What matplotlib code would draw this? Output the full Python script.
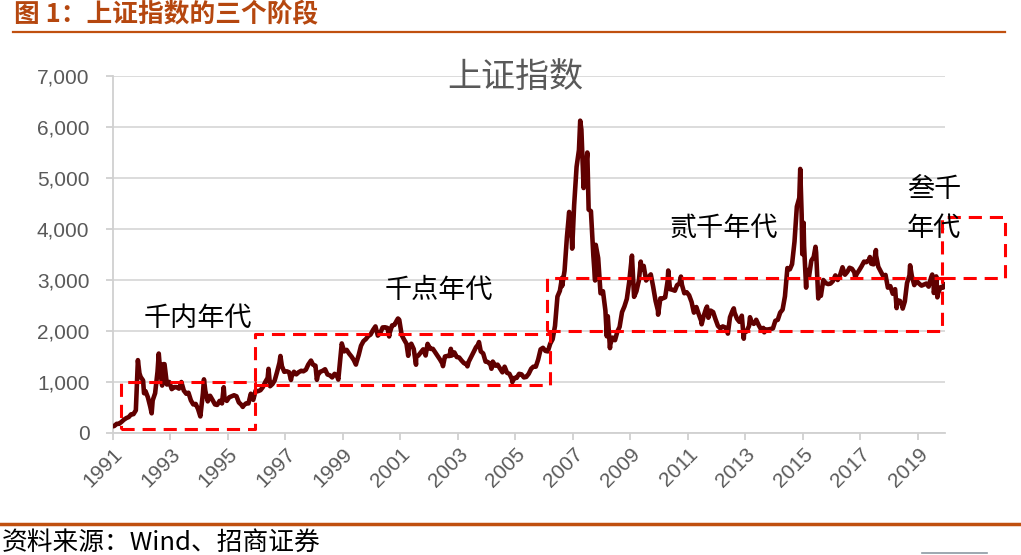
import numpy as np
import pandas as pd
import matplotlib
matplotlib.use("Agg")
import matplotlib.pyplot as plt

plt.rcParams['font.family'] = ['Liberation Sans', 'Noto Sans CJK SC', 'DejaVu Sans']

# 上证指数（读图估计，月度 + 关键高低点）
dates = [
    "1991-07-15", "1991-07-31", "1991-08-31", "1991-09-30", "1991-10-31", "1991-11-30", "1991-12-31",
    "1992-01-31", "1992-02-29", "1992-03-31", "1992-04-30", "1992-05-21", "1992-05-26", "1992-06-15",
    "1992-06-30", "1992-07-31", "1992-08-12", "1992-08-31", "1992-09-30", "1992-10-31", "1992-11-17",
    "1992-11-30", "1992-12-31",
    "1993-01-31", "1993-02-16", "1993-02-28", "1993-03-31", "1993-04-15", "1993-04-30", "1993-05-31",
    "1993-06-30", "1993-07-31", "1993-08-31", "1993-09-30", "1993-10-31", "1993-11-30", "1993-12-31",
    "1994-01-31", "1994-02-28", "1994-03-31", "1994-04-30", "1994-05-31", "1994-06-30", "1994-07-29",
    "1994-08-31", "1994-09-13", "1994-09-30", "1994-10-31", "1994-11-30", "1994-12-31",
    "1995-01-31", "1995-02-28", "1995-03-31", "1995-04-30", "1995-05-22", "1995-05-31", "1995-06-30",
    "1995-07-31", "1995-08-31", "1995-09-30", "1995-10-31", "1995-11-30", "1995-12-31",
    "1996-01-19", "1996-01-31", "1996-02-29", "1996-03-31", "1996-04-30", "1996-05-31", "1996-06-30",
    "1996-07-31", "1996-08-31", "1996-09-30", "1996-10-31", "1996-11-30", "1996-12-11", "1996-12-31",
    "1997-01-31", "1997-02-28", "1997-03-31", "1997-04-30", "1997-05-12", "1997-05-31", "1997-06-30",
    "1997-07-31", "1997-08-31", "1997-09-23", "1997-09-30", "1997-10-31", "1997-11-30", "1997-12-31",
    "1998-01-31", "1998-02-28", "1998-03-31", "1998-04-30", "1998-05-31", "1998-06-04", "1998-06-30",
    "1998-07-31", "1998-08-18", "1998-08-31", "1998-09-30", "1998-10-31", "1998-11-30", "1998-12-31",
    "1999-01-31", "1999-02-28", "1999-03-31", "1999-04-30", "1999-05-17", "1999-05-31", "1999-06-30",
    "1999-07-31", "1999-08-31", "1999-09-30", "1999-10-31", "1999-11-30", "1999-12-27", "1999-12-31",
    "2000-01-31", "2000-02-29", "2000-03-31", "2000-04-30", "2000-05-31", "2000-06-30", "2000-07-31",
    "2000-08-31", "2000-09-30", "2000-10-31", "2000-11-30", "2000-12-31",
    "2001-01-31", "2001-02-22", "2001-02-28", "2001-03-31", "2001-04-30", "2001-05-31", "2001-06-14",
    "2001-06-30", "2001-07-31", "2001-08-31", "2001-09-30", "2001-10-22", "2001-10-31", "2001-11-30",
    "2001-12-31",
    "2002-01-29", "2002-01-31", "2002-02-28", "2002-03-31", "2002-04-30", "2002-05-31", "2002-06-25",
    "2002-06-30", "2002-07-31", "2002-08-31", "2002-09-30", "2002-10-31", "2002-11-30", "2002-12-31",
    "2003-01-06", "2003-01-31", "2003-02-28", "2003-03-31", "2003-04-16", "2003-04-30", "2003-05-31",
    "2003-06-30", "2003-07-31", "2003-08-31", "2003-09-30", "2003-10-31", "2003-11-13", "2003-11-30",
    "2003-12-31",
    "2004-01-31", "2004-02-29", "2004-03-31", "2004-04-07", "2004-04-30", "2004-05-31", "2004-06-30",
    "2004-07-31", "2004-08-31", "2004-09-13", "2004-09-30", "2004-10-31", "2004-11-30", "2004-12-31",
    "2005-01-31", "2005-02-28", "2005-03-31", "2005-04-30", "2005-05-31", "2005-06-06", "2005-06-30",
    "2005-07-31", "2005-08-31", "2005-09-30", "2005-10-31", "2005-11-30", "2005-12-31",
    "2006-01-31", "2006-02-28", "2006-03-31", "2006-04-30", "2006-05-31", "2006-06-30", "2006-07-31",
    "2006-08-31", "2006-09-30", "2006-10-31", "2006-11-30", "2006-12-31",
    "2007-01-31", "2007-02-26", "2007-02-28", "2007-03-31", "2007-04-30", "2007-05-29", "2007-05-31",
    "2007-06-30", "2007-07-06", "2007-07-31", "2007-08-31", "2007-09-30", "2007-10-16", "2007-10-31",
    "2007-11-28", "2007-11-30", "2007-12-31",
    "2008-01-14", "2008-01-31", "2008-02-29", "2008-03-31", "2008-04-22", "2008-04-30", "2008-05-31",
    "2008-06-30", "2008-07-31", "2008-08-31", "2008-09-18", "2008-09-30", "2008-10-28", "2008-10-31",
    "2008-11-30", "2008-12-31",
    "2009-01-31", "2009-02-28", "2009-03-31", "2009-04-30", "2009-05-31", "2009-06-30", "2009-07-31",
    "2009-08-04", "2009-08-31", "2009-09-30", "2009-10-31", "2009-11-24", "2009-11-30", "2009-12-31",
    "2010-01-31", "2010-02-28", "2010-03-31", "2010-04-30", "2010-05-31", "2010-06-30", "2010-07-02",
    "2010-07-31", "2010-08-31", "2010-09-30", "2010-10-31", "2010-11-08", "2010-11-30", "2010-12-31",
    "2011-01-31", "2011-02-28", "2011-03-31", "2011-04-18", "2011-04-30", "2011-05-31", "2011-06-30",
    "2011-07-31", "2011-08-31", "2011-09-30", "2011-10-31", "2011-11-30", "2011-12-31",
    "2012-01-06", "2012-01-31", "2012-02-29", "2012-03-14", "2012-03-31", "2012-04-30", "2012-05-31",
    "2012-06-30", "2012-07-31", "2012-08-31", "2012-09-30", "2012-10-31", "2012-11-30", "2012-12-04",
    "2012-12-31",
    "2013-01-31", "2013-02-18", "2013-02-28", "2013-03-31", "2013-04-30", "2013-05-31", "2013-06-25",
    "2013-06-30", "2013-07-31", "2013-08-31", "2013-09-12", "2013-09-30", "2013-10-31", "2013-11-30",
    "2013-12-31",
    "2014-01-31", "2014-02-28", "2014-03-12", "2014-03-31", "2014-04-30", "2014-05-31", "2014-06-30",
    "2014-07-31", "2014-08-31", "2014-09-30", "2014-10-31", "2014-11-30", "2014-12-31",
    "2015-01-31", "2015-02-28", "2015-03-31", "2015-04-30", "2015-05-31", "2015-06-12", "2015-06-30",
    "2015-07-08", "2015-07-24", "2015-07-31", "2015-08-26", "2015-08-31", "2015-09-30", "2015-10-31",
    "2015-11-30", "2015-12-23", "2015-12-31",
    "2016-01-27", "2016-01-31", "2016-02-29", "2016-03-31", "2016-04-30", "2016-05-31", "2016-06-30",
    "2016-07-31", "2016-08-31", "2016-09-30", "2016-10-31", "2016-11-30", "2016-12-31",
    "2017-01-31", "2017-02-28", "2017-03-31", "2017-04-30", "2017-05-11", "2017-05-31", "2017-06-30",
    "2017-07-31", "2017-08-31", "2017-09-30", "2017-10-31", "2017-11-14", "2017-11-30", "2017-12-31",
    "2018-01-29", "2018-01-31", "2018-02-28", "2018-03-31", "2018-04-30", "2018-05-31", "2018-06-30",
    "2018-07-31", "2018-08-31", "2018-09-30", "2018-10-19", "2018-10-31", "2018-11-30", "2018-12-31",
    "2019-01-04", "2019-01-31", "2019-02-28", "2019-03-31", "2019-04-08", "2019-04-30", "2019-05-31",
    "2019-06-30", "2019-07-31", "2019-08-31", "2019-09-30", "2019-10-31", "2019-11-30", "2019-12-31",
    "2020-01-14", "2020-01-31", "2020-02-03", "2020-02-28", "2020-03-05", "2020-03-19", "2020-03-31",
    "2020-04-30", "2020-05-31", "2020-06-12",
]
values = [
    133, 137, 180, 180, 218, 260, 292,
    313, 365, 370, 445, 1266, 1429, 1170,
    1100, 1030, 780, 820, 700, 510, 386,
    640, 780,
    1200, 1558, 1330, 930, 1350, 1350, 950,
    1000, 860, 900, 900, 870, 1000, 833,
    770, 790, 640, 560, 570, 470, 325,
    780, 1052, 830, 620, 730, 648,
    560, 550, 630, 580, 897, 700, 630,
    700, 720, 740, 720, 600, 555,
    512, 540, 580, 580, 770, 650, 830,
    820, 840, 900, 1000, 1080, 1258, 917,
    960, 1030, 1200, 1380, 1510, 1310, 1200,
    1210, 1190, 1040, 1100, 1200, 1150, 1194,
    1220, 1210, 1240, 1340, 1410, 1420, 1340,
    1320, 1043, 1140, 1200, 1220, 1250, 1147,
    1130, 1090, 1160, 1120, 1047, 1280, 1756,
    1600, 1630, 1560, 1500, 1430, 1341, 1370,
    1530, 1710, 1800, 1840, 1900, 1930, 2020,
    2090, 1910, 1960, 2070, 2073,
    2060, 1893, 1960, 2110, 2120, 2210, 2245,
    2220, 1920, 1830, 1750, 1514, 1690, 1750,
    1646,
    1339, 1490, 1520, 1580, 1640, 1520, 1748,
    1730, 1650, 1650, 1580, 1510, 1440, 1357,
    1311, 1500, 1510, 1510, 1650, 1520, 1580,
    1490, 1480, 1420, 1370, 1350, 1307, 1400,
    1497,
    1590, 1680, 1740, 1783, 1600, 1560, 1400,
    1390, 1340, 1260, 1400, 1320, 1340, 1266,
    1190, 1300, 1180, 1160, 1060, 998, 1080,
    1080, 1160, 1150, 1090, 1100, 1161,
    1260, 1300, 1300, 1440, 1640, 1670, 1610,
    1600, 1750, 1840, 2100, 2675,
    2790, 3040, 2880, 3180, 3840, 4335, 4110,
    3820, 3615, 4470, 5220, 5550, 6124, 5950,
    4803, 4870, 5262,
    5500, 4380, 4350, 3470, 2990, 3690, 3430,
    2740, 2780, 2400, 1895, 2290, 1664, 1730,
    1870, 1820,
    1990, 2080, 2370, 2480, 2630, 2960, 3410,
    3478, 2670, 2780, 2990, 3361, 3200, 3277,
    2990, 3050, 3110, 2870, 2590, 2400, 2320,
    2640, 2640, 2660, 2980, 3186, 2820, 2808,
    2790, 2900, 2930, 3067, 2910, 2740, 2760,
    2700, 2570, 2360, 2470, 2330, 2199,
    2132, 2290, 2430, 2478, 2260, 2400, 2370,
    2230, 2100, 2050, 2090, 2070, 1980, 1949,
    2269,
    2390, 2444, 2360, 2240, 2180, 2300, 1849,
    1980, 1990, 2100, 2270, 2170, 2140, 2220,
    2116,
    2030, 2060, 1974, 2030, 2030, 2040, 2050,
    2200, 2220, 2360, 2420, 2680, 3234,
    3210, 3310, 3750, 4440, 4610, 5178, 4280,
    3507, 4124, 3660, 2850, 3200, 3050, 3380,
    3450, 3651, 3539,
    2638, 2740, 2690, 3000, 2940, 2920, 2930,
    2980, 3090, 3000, 3100, 3250, 3104,
    3160, 3240, 3220, 3150, 3050, 3120, 3190,
    3270, 3360, 3350, 3390, 3450, 3320, 3307,
    3587, 3480, 3260, 3170, 3080, 3100, 2850,
    2880, 2730, 2820, 2449, 2600, 2590, 2494,
    2440, 2580, 2940, 3090, 3288, 3080, 2900,
    2980, 2930, 2890, 2910, 2930, 2870, 3050,
    3107, 2976, 2746, 2880, 3071, 2660, 2750,
    2860, 2850, 2920,
]

# 三个阶段的方框（起止年份、上下沿点位）
box_labels = ["千内年代", "千点年代", "贰千年代", "叁千年代"]
box_x0 = [1991.82, 1996.46, 2006.64, 2020.38]
box_x1 = [1996.46, 2006.74, 2020.38, 2022.57]
box_y0 = [80, 940, 2000, 3040]
box_y1 = [1000, 1940, 3040, 4235]

year_ticks = list(range(1991, 2020, 2))

d = pd.to_datetime(dates)
t = d.year + (d.dayofyear - 1) / 365.25
t0 = t[0]

fig = plt.figure(figsize=(10.21, 5.55), dpi=100)
ax = fig.add_axes([113 / 1021, 1 - 433 / 555, 832 / 1021, 357 / 555])

ax.plot(t, values, color="#600000", lw=3.3, solid_joinstyle="round", zorder=3)

for x0, x1, y0, y1 in zip(box_x0, box_x1, box_y0, box_y1):
    ax.plot([x0, x1, x1, x0, x0], [y0, y0, y1, y1, y0], color="#ff0000", lw=2.2,
            linestyle=(0, (4.3, 2.6)), clip_on=False, zorder=4)

lab_style = dict(fontsize=19.5, color="black", ha="center", va="center",
                 family=["Noto Sans CJK SC"], zorder=5)
ax.text(1994.5, 2255, box_labels[0], **lab_style)
ax.text(2002.88, 2800, box_labels[1], **lab_style)
ax.text(2012.79, 4020, box_labels[2], **lab_style)
ax.text(2020.1, 4765, box_labels[3][:2], clip_on=False, **lab_style)
ax.text(2020.1, 4020, box_labels[3][2:], clip_on=False, **lab_style)

ax.text(0.483, 0.995, "上证指数", transform=ax.transAxes, ha="center", va="center",
        fontsize=24.5, color="#595959", family=["Noto Sans CJK SC"])

ax.set_xlim(t0, 2020.48)
ax.set_ylim(0, 7000)
ax.set_xticks([t0 + y - 1991 for y in year_ticks])
ax.set_xticklabels([str(y) for y in year_ticks], rotation=45, ha="right",
                   rotation_mode="anchor")
ax.set_yticks(range(0, 7001, 1000))
ax.set_yticklabels([f"{v:,}" for v in range(0, 7001, 1000)])
ax.tick_params(axis="both", labelsize=15, labelcolor="#595959", color="#d0d0d0",
               length=5, width=1.3, direction="out")
ax.tick_params(axis="x", pad=3)
ax.tick_params(axis="y", pad=12)
ax.grid(axis="y", color="#d9d9d9", lw=1.3)
ax.set_axisbelow(True)
for s in ["top", "right"]:
    ax.spines[s].set_visible(False)
for s in ["left", "bottom"]:
    ax.spines[s].set_color("#d0d0d0")
    ax.spines[s].set_linewidth(1.3)

# 页眉页脚
fig.text(14 / 1021, 1 - 15 / 555, "图 1：上证指数的三个阶段", fontsize=18.5, fontweight="bold",
         color="#b5470f", ha="left", va="center", family=["Noto Sans CJK SC", "DejaVu Sans"])
fig.add_artist(plt.Line2D([13 / 1021, 1005 / 1021], [1 - 32 / 555] * 2, color="#c0500f", lw=1.6))
fig.add_artist(plt.Line2D([0, 1], [1 - 524 / 555] * 2, color="#c0500f", lw=2.5))
fig.add_artist(plt.Line2D([922 / 1021, 987 / 1021], [1 - 553 / 555] * 2, color="#8c9aa3", lw=1.2))
fig.text(2 / 1021, 1 - 543 / 555, "资料来源：Wind、招商证券", fontsize=18.5, color="black",
         ha="left", va="center", family=["Noto Sans CJK SC", "DejaVu Sans"])

fig.savefig("out.png", dpi=100)
